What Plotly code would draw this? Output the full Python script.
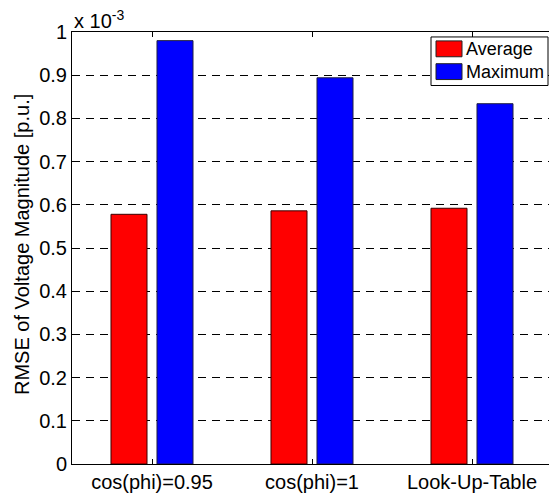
import plotly.graph_objects as go

categories = ["cos(phi)=0.95", "cos(phi)=1", "Look-Up-Table"]
series_names = ["Average", "Maximum"]
average = [0.578e-3, 0.586e-3, 0.592e-3]
maximum = [0.980e-3, 0.894e-3, 0.834e-3]
y_tick_vals = [i * 1e-4 for i in range(11)]
y_tick_text = ["0", "0.1", "0.2", "0.3", "0.4", "0.5", "0.6", "0.7", "0.8", "0.9", "1"]

FONT = "Liberation Sans, Arial, sans-serif"
colors = ["#FF0000", "#0000FF"]
edges = ["#3a0000", "#202040"]

fig = go.Figure()
for name, vals, c, e in zip(series_names, [average, maximum], colors, edges):
    fig.add_trace(go.Bar(x=categories, y=vals, name=name, showlegend=False,
                         marker=dict(color=c, line=dict(color=e, width=1))))

W, H = 549, 493
L, R, T, B = 72, 0, 32, 25
pw = W - L - R
ph = H - T - B


def px_x(p):
    return (p - L) / pw


def px_y(p):
    return (H - B - p) / ph


shapes = []
annotations = []
# manual legend box
shapes.append(dict(type="rect", xref="paper", yref="paper",
                   x0=px_x(431), x1=px_x(548), y0=px_y(86), y1=px_y(37),
                   line=dict(color="black", width=1), fillcolor="white",
                   layer="above"))
row_centers = [49, 72]
for name, c, yc in zip(series_names, colors, row_centers):
    shapes.append(dict(type="rect", xref="paper", yref="paper",
                       x0=px_x(436), x1=px_x(462), y0=px_y(yc + 8), y1=px_y(yc - 8),
                       line=dict(color="#222222", width=1), fillcolor=c,
                       layer="above"))
    annotations.append(dict(text=name, xref="paper", yref="paper",
                            x=px_x(464), y=px_y(yc), xanchor="left",
                            yanchor="middle", showarrow=False,
                            font=dict(size=18)))

annotations.append(dict(text="RMSE of Voltage Magnitude [p.u.]", textangle=-90,
                        xref="paper", yref="paper", x=px_x(22), y=px_y(247),
                        xanchor="center", yanchor="middle", showarrow=False,
                        font=dict(size=20)))
annotations.append(dict(text="x 10<sup>-3</sup>", xref="paper", yref="paper",
                        x=0, y=1, xanchor="left", yanchor="bottom",
                        showarrow=False, xshift=0, yshift=-2,
                        font=dict(size=20)))

fig.update_layout(
    width=W, height=H,
    margin=dict(l=L, r=R, t=T, b=B),
    paper_bgcolor="white", plot_bgcolor="white",
    barmode="group", bargap=0.425, bargroupgap=0.217,
    font=dict(family=FONT, size=20, color="black"),
    showlegend=False,
    xaxis=dict(range=[-0.5, 2.5 - 3 / 160], showline=True, linecolor="black",
               linewidth=1, mirror="ticks", ticks="inside", ticklen=5,
               tickcolor="black", showgrid=False, zeroline=False,
               tickfont=dict(size=20)),
    yaxis=dict(range=[0, 1e-3], tickvals=y_tick_vals, ticktext=y_tick_text,
               showline=True, linecolor="black", linewidth=1, mirror=False,
               ticks="inside", ticklen=5, tickcolor="black",
               showgrid=True, gridcolor="black", griddash="8px,6px", gridwidth=1,
               zeroline=False, tickfont=dict(size=20)),
    shapes=shapes,
    annotations=annotations,
)

fig.write_html("out.html")
